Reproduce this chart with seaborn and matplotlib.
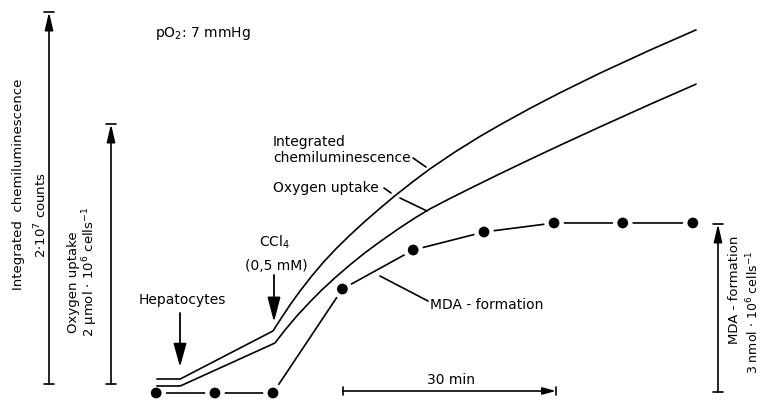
import numpy as np
import pandas as pd
import matplotlib
matplotlib.use("Agg")
import matplotlib.pyplot as plt
from matplotlib.lines import Line2D
import seaborn as sns

# ---------------- data (time in min relative to CCl4 addition) ----------------
t_chemi = [-16.4, -13.1, 0.0, 0.99, 2.40, 3.81, 5.51, 7.20, 8.90, 10.88, 12.99, 15.11,
           17.23, 19.63, 22.18, 25.71, 29.24, 32.06, 36.30, 40.54, 46.19, 53.25, 59.75]
chemi = [0.0, 0.0, 0.259, 0.318, 0.399, 0.474, 0.557, 0.633, 0.702, 0.776, 0.850, 0.920,
         0.988, 1.060, 1.133, 1.224, 1.308, 1.370, 1.459, 1.543, 1.649, 1.773, 1.882]  # 10^7 counts

t_oxy = [-16.4, -13.1, 0.28, 1.69, 3.39, 5.23, 6.92, 8.76, 10.88, 12.99, 15.11, 17.66,
         20.06, 22.18, 25.0, 27.82, 32.06, 36.30, 40.54, 46.19, 53.25, 59.75]
oxy = [0.0, 0.0, 0.332, 0.432, 0.542, 0.650, 0.743, 0.836, 0.936, 1.029, 1.114, 1.212,
       1.298, 1.368, 1.448, 1.525, 1.639, 1.750, 1.859, 2.001, 2.175, 2.331]  # umol/10^6 cells

t_mda = [-16.5, -8.2, 0.0, 9.8, 19.8, 29.8, 39.7, 49.4, 59.3]
mda = [0.0, 0.0, 0.0, 1.962, 2.698, 3.038, 3.208, 3.208, 3.208]  # nmol/10^6 cells

df_c = pd.DataFrame({"t": t_chemi, "v": chemi})
df_o = pd.DataFrame({"t": t_oxy, "v": oxy})
df_m = pd.DataFrame({"t": t_mda, "v": mda})

# ---------------- figure ----------------
sns.set_style("white")
plt.rcParams["font.family"] = ["DejaVu Sans"]
W, H = 763, 401
fig = plt.figure(figsize=(W / 100, H / 100), dpi=100)
ax_c = fig.add_axes([0, 0, 1, 1])
ax_o = ax_c.twinx()
ax_m = ax_c.twinx()
for a in (ax_c, ax_o, ax_m):
    a.set_axis_off()
    a.set_xlim(-38.56, 69.21)
ax_c.set_ylim(-0.1186, 2.0431)
ax_o.set_ylim(-0.1158, 2.9807)
ax_m.set_ylim(-0.1509, 7.4151)

# MDA: line with gaps around dots
sns.lineplot(data=df_m, x="t", y="v", ax=ax_m, color="black", linewidth=1.2,
             estimator=None, sort=False, zorder=1)
sns.scatterplot(data=df_m, x="t", y="v", ax=ax_m, color="white", s=200,
                edgecolor="none", zorder=2)
sns.scatterplot(data=df_m, x="t", y="v", ax=ax_m, color="black", s=60,
                edgecolor="none", zorder=3)
sns.lineplot(data=df_c, x="t", y="v", ax=ax_c, color="black", linewidth=1.2,
             estimator=None, sort=False)
sns.lineplot(data=df_o, x="t", y="v", ax=ax_o, color="black", linewidth=1.2,
             estimator=None, sort=False)
for a in (ax_c, ax_o, ax_m):
    if a.get_legend():
        a.get_legend().remove()
ax_m.set_zorder(1)
ax_o.set_zorder(2)
ax_c.set_zorder(3)
for a in (ax_o, ax_c):
    a.patch.set_visible(False)


def F(x, y):
    return (x / W, 1 - y / H)


def line(xs, ys, lw=1.2):
    fx = [x / W for x in xs]
    fy = [1 - y / H for y in ys]
    fig.add_artist(Line2D(fx, fy, transform=fig.transFigure, color="black", lw=lw))


def arrow(x0, y0, x1, y1, hl, hw, lw=1.2):
    ax_c.annotate("", xy=F(x1, y1), xytext=F(x0, y0), xycoords="figure fraction",
                  textcoords="figure fraction",
                  arrowprops=dict(arrowstyle=f"-|>,head_length={hl*0.72},head_width={hw*0.72/2}",
                                  mutation_scale=1, color="black", lw=lw,
                                  shrinkA=0, shrinkB=0))


def text(x, y, s, **kw):
    kw.setdefault("fontsize", 10)
    fig.text(x / W, 1 - y / H, s, color="black", **kw)


# vertical scale bars
for xb, ytop, ybot in [(49, 12, 384), (111, 124, 384), (718, 224, 392)]:
    arrow(xb, ybot, xb, ytop, 15, 7)
    line([xb - 5, xb + 5], [ytop, ytop])
    line([xb - 5, xb + 5], [ybot, ybot])

# time bar
arrow(343, 391, 556, 391, 11, 6)
line([343, 343], [387, 395])
line([556, 556], [387, 395])
text(451, 380, "30 min", ha="center", va="center")

# event arrows
arrow(180, 313, 180, 367, 20, 11, lw=1.3)
arrow(274, 275, 274, 322, 21, 11, lw=1.3)
text(182, 300, "Hepatocytes", ha="center", va="center")
text(274, 242, "CCl$_4$", ha="center", va="center")
text(276, 266, "(0,5 mM)", ha="center", va="center")

# curve labels and leaders
text(273, 150, "Integrated\nchemiluminescence", ha="left", va="center", linespacing=1.15)
line([413, 426], [158, 167])
text(273, 188, "Oxygen uptake", ha="left", va="center")
line([384, 391], [188, 193])
line([400, 427], [198, 211])
text(430, 305, "MDA - formation", ha="left", va="center")
line([380, 428], [276, 301])

text(155, 33, "pO$_2$: 7 mmHg", ha="left", va="center")

# axis labels (rotated)
text(19, 184, "Integrated  chemiluminescence", rotation=90, ha="center", va="center", fontsize=9.5)
text(41, 215, "2$\\cdot$10$^7$ counts", rotation=90, ha="center", va="center", fontsize=9.5)
text(74, 282, "Oxygen uptake", rotation=90, ha="center", va="center", fontsize=9.5)
text(90, 272, "2 µmol $\\cdot$ 10$^6$ cells$^{-1}$", rotation=90, ha="center", va="center", fontsize=9.5)
text(735, 290, "MDA - formation", rotation=90, ha="center", va="center", fontsize=9.5)
text(753, 312, "3 nmol $\\cdot$ 10$^6$ cells$^{-1}$", rotation=90, ha="center", va="center", fontsize=9)

fig.savefig("out.png", dpi=100, facecolor="white")
